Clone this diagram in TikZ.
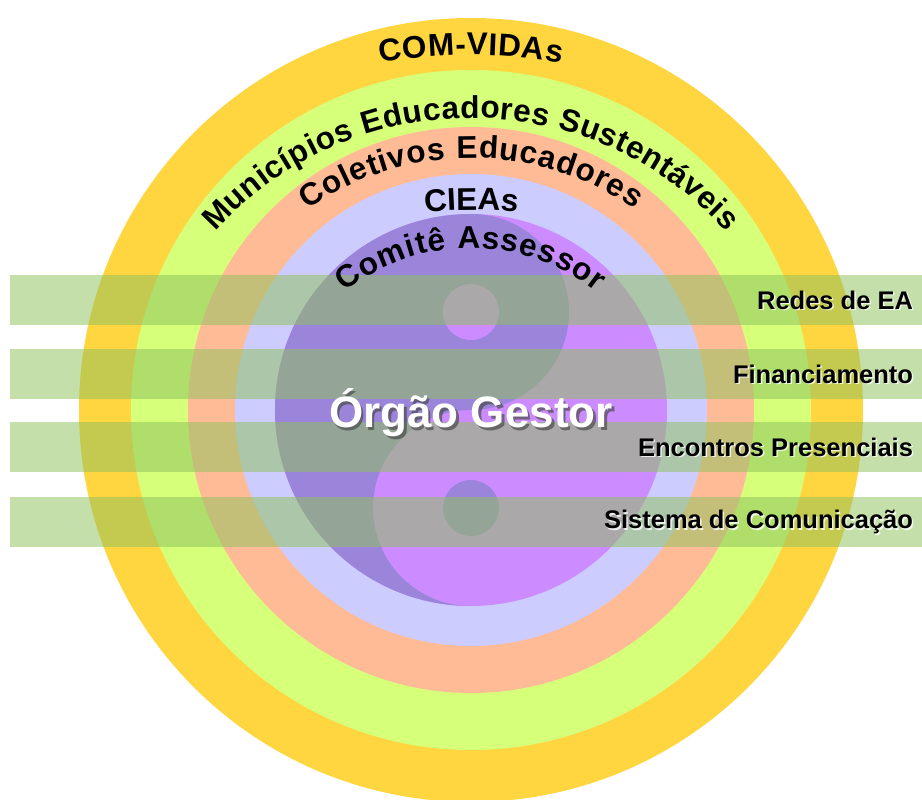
\documentclass[tikz,border=0pt]{standalone}
\usepackage{fontspec}
\setmainfont{Liberation Sans}
\usetikzlibrary{decorations.text}
\definecolor{comvidas}{RGB}{255,213,64}
\definecolor{municipios}{RGB}{214,255,122}
\definecolor{coletivos}{RGB}{255,187,150}
\definecolor{cieas}{RGB}{204,204,255}
\definecolor{yinescuro}{RGB}{155,133,218}
\definecolor{yinclaro}{RGB}{204,140,255}
\definecolor{faixa}{RGB}{143,194,94}
\newcommand{\ringfont}{\bfseries\fontsize{31.5}{33}\selectfont}
\newcommand{\faixafont}{\bfseries\fontsize{25.5}{28}\selectfont}
\newcommand{\gestorfont}{\bfseries\fontsize{44}{48}\selectfont}

\begin{document}
\begin{tikzpicture}[x=1pt, y=1pt,
   ringtext/.style={decorate, decoration={text along path, text align={fit to path}, text={|\ringfont|#1}}},
   band/.style={fill=faixa, fill opacity=0.53, draw=none, minimum width=912, minimum height=50, inner sep=0},
   bandlabel/.style={anchor=east, inner sep=0, font=\faixafont},
   bandglow/.style={anchor=east, inner sep=0, font=\faixafont, text=white, opacity=0.8}]

   \useasboundingbox (-471,-390) rectangle (451,410);

   % RINGS
   \fill[comvidas] (0,0) circle (392);
   \fill[municipios] (0,0) circle (340);
   \fill[coletivos] (0,0) circle (283);
   \fill[cieas] (0,0) circle (236);

   % YIN YANG
   \fill[yinclaro] (0,0) circle (196);
   \fill[yinescuro] (0,196) arc[start angle=90, end angle=270, radius=196]
      arc[start angle=-90, end angle=-270, radius=98]
      arc[start angle=-90, end angle=90, radius=98] -- cycle;
   \fill[yinclaro] (0,98) circle (28);
   \fill[yinescuro] (0,-98) circle (28);

   % BANDS
   \node[band] (redes) at (-5,110) {};
   \node[band] (financ) at (-5,36) {};
   \node[band] (encontros) at (-5,-37) {};
   \node[band] (sistema) at (-5,-112) {};

   \node[bandglow] at ([xshift=-7.5, yshift=-1.5]redes.east) {Redes de EA};
   \node[bandlabel] (redestxt) at ([xshift=-9]redes.east) {Redes de EA};
   \node[bandglow] at ([xshift=-7.5, yshift=-1.5]financ.east) {Financiamento};
   \node[bandlabel] (financtxt) at ([xshift=-9]financ.east) {Financiamento};
   \node[bandglow] at ([xshift=-7.5, yshift=-1.5]encontros.east) {Encontros Presenciais};
   \node[bandlabel] (encontrostxt) at ([xshift=-9]encontros.east) {Encontros Presenciais};
   \node[bandglow] at ([xshift=-7.5, yshift=-1.5]sistema.east) {Sistema de Comunicação};
   \node[bandlabel] (sistematxt) at ([xshift=-9]sistema.east) {Sistema de Comunicação};

   % RING LABELS
   \path[ringtext={COM-VIDAs}] (0,-165) ++(100:520) arc[start angle=100, end angle=80, radius=520];
   \path[ringtext={Municípios Educadores Sustentáveis}] (0,-52) ++(138:344) arc[start angle=138, end angle=42, radius=344];
   \path[ringtext={Coletivos Educadores}] (0,-33) ++(125:285) arc[start angle=125, end angle=55, radius=285];
   \path[ringtext={CIEAs}] (0,-200) ++(96.6:400) arc[start angle=96.6, end angle=83.4, radius=400];
   \path[ringtext={Comitê Assessor}] (0,-40) ++(128.6:202) arc[start angle=128.6, end angle=51.6, radius=202];

   % CENTER
   \node[font=\gestorfont, text=black!70, opacity=0.7, inner sep=0] at (2.5,-5.5) {Órgão Gestor};
   \node[font=\gestorfont, text=white, inner sep=0] (gestor) at (0,-3) {Órgão Gestor};
\end{tikzpicture}
\end{document}
